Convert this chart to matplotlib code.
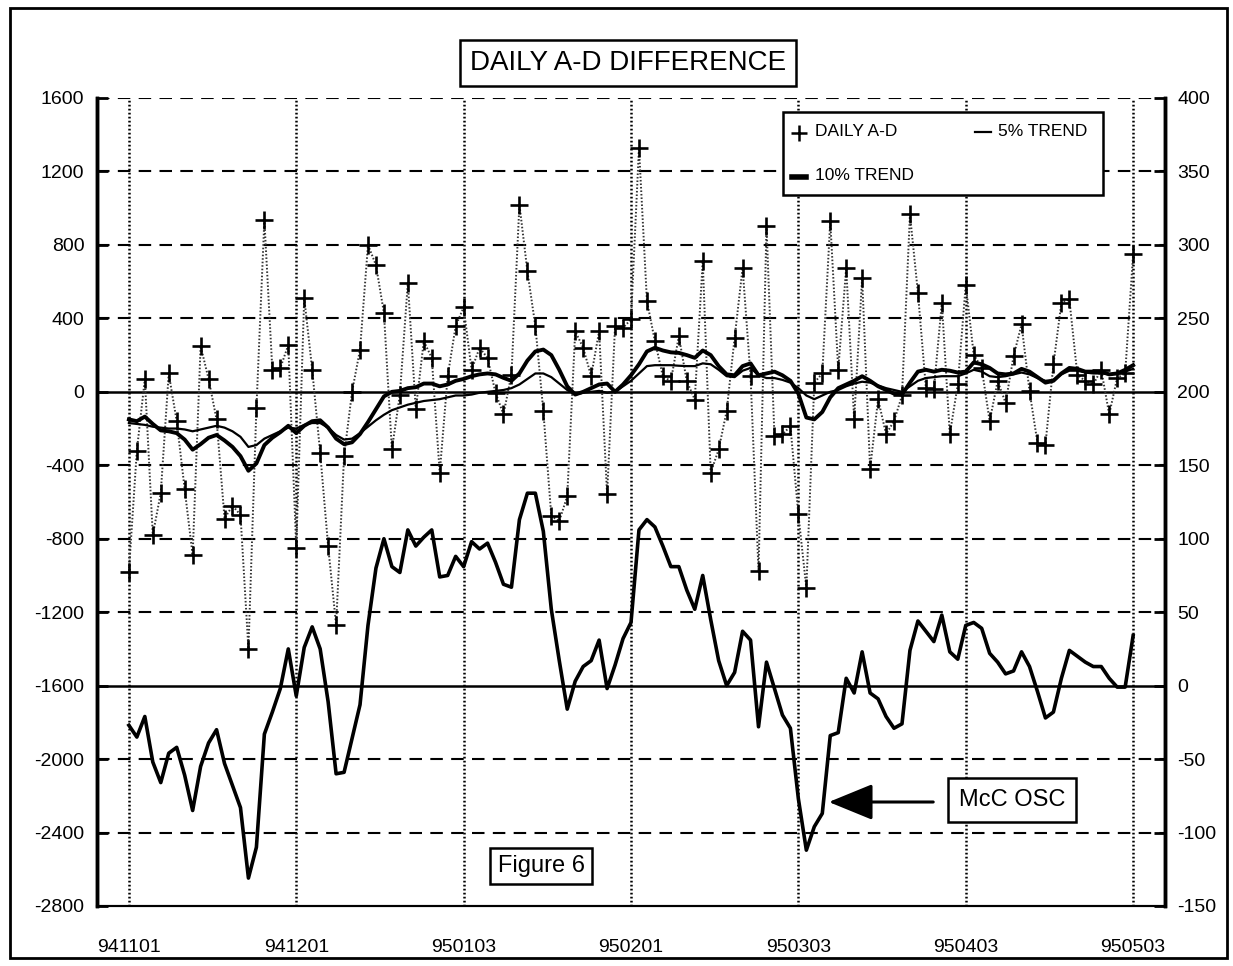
import numpy as np
import matplotlib.pyplot as plt
from matplotlib.patches import Rectangle
from matplotlib.lines import Line2D

plt.rcParams['font.family'] = ['Liberation Sans', 'DejaVu Sans']
plt.rcParams['axes.unicode_minus'] = False

# ---------------------------------------------------------------
# data (one value per trading day, 941101..950503)
# ---------------------------------------------------------------
TICK_POS = [0, 21, 42, 63, 84, 105, 126]
TICK_LABELS = ['941101', '941201', '950103', '950201', '950303', '950403', '950503']

DAILY_AD = [
    -980, -320, 70, -780, -550, 100, -160, -530, -890, 250, 70, -150, -690, -620, -670, -1400, -90, 935, 120, 130, 255, -850,
    512, 121, -332, -840, -1270, -350, 0, 230, 800, 690, 430, -314, -15, 594, -96, 276, 185, -441, 85, 358,
    460, 120, 240, 185, -5, -123, 94, 1020, 657, 358, -105, -677, -704, -568, 330, 240, 85, 330, -559, 358, 349,
    394, 1329, 494, 276, 85, 58, 303, 58, -42, 712, -441, -314, -105, 294, 675, 85, -977, 902, -241, -232, -187,
    -668, -1068, 50, 100, 930, 120, 675, -150, 620, -420, -40, -230, -160, -20, 966, 539, 22, 13, 485, -232, 40,
    584, 203, 130, -160, 58, -60, 194, 367, 4, -278, -287, 149, 485, 503, 94, 58, 40, 121, -123, 76, 100, 748,
]

TREND_10 = [
    -150, -160, -135, -175, -210, -215, -225, -260, -315, -285,
    -250, -235, -265, -300, -350, -430, -390, -290, -250, -220,
    -185, -225, -185, -160, -155, -195, -255, -285, -275, -230,
    -165, -95, -25, 0, 5, 20, 25, 45, 45, 30,
    40, 60, 70, 85, 95, 100, 95, 76, 60, 100,
    170, 220, 230, 200, 120, 30, -15, 0, 20, 40,
    45, 0, 40, 90, 150, 220, 240, 225, 215, 212,
    200, 185, 225, 200, 140, 95, 90, 140, 155, 90,
    100, 110, 90, 60, -10, -140, -150, -110, -30, 20,
    40, 60, 85, 60, 30, 10, -10, -15, 50, 110,
    120, 110, 120, 115, 105, 110, 160, 150, 130, 100,
    95, 100, 125, 110, 80, 50, 60, 100, 130, 125,
    110, 110, 110, 95, 100, 120, 145,
]

TREND_5 = [
    -170, -175, -180, -190, -195, -200, -200, -205, -215, -205,
    -195, -185, -195, -215, -245, -300, -290, -255, -235, -215,
    -195, -200, -180, -170, -170, -195, -235, -260, -255, -225,
    -190, -155, -125, -100, -85, -70, -60, -50, -45, -40,
    -30, -20, -20, -15, -5, 0, 5, 10, 20, 40,
    70, 100, 100, 80, 45, 10, -15, -5, 0, 5,
    -5, 0, 30, 60, 100, 140, 145, 145, 145, 142,
    140, 140, 155, 150, 120, 85, 80, 115, 130, 90,
    75, 75, 65, 50, 20, -20, -40, -20, 0, 10,
    30, 45, 55, 50, 35, 20, 10, 0, 30, 60,
    75, 80, 85, 85, 85, 100, 120, 110, 85, 80,
    85, 95, 105, 95, 75, 60, 65, 95, 115, 115,
    105, 100, 100, 95, 100, 110, 125,
]

MCC_OSC = [
    -27, -35, -21, -52, -66, -46, -42, -61, -85, -55,
    -39, -30, -53, -68, -83, -131, -110, -33, -18, -2,
    25, -7, 26, 40, 25, -11, -60, -59, -36, -13,
    41, 80, 100, 81, 77, 106, 95, 101, 106, 74,
    75, 88, 81, 98, 93, 97, 84, 69, 67, 113,
    131, 131, 105, 52, 17, -16, 3, 13, 17, 31,
    -2, 14, 32, 43, 106, 113, 108, 95, 81, 81,
    65, 52, 75, 45, 17, 0, 9, 37, 31, -28,
    16, -2, -20, -29, -77, -112, -96, -87, -34, -32,
    5, -5, 23, -5, -9, -21, -29, -26, 24, 44,
    37, 30, 48, 23, 18, 41, 43, 39, 22, 16,
    8, 10, 23, 13, -4, -22, -18, 5, 24, 20,
    16, 13, 13, 5, -1, -1, 34,
]

W, H = 1233, 966


def fx(px):
    return px / W


def fy(py):
    return 1 - py / H


fig = plt.figure(figsize=(W / 100, H / 100), dpi=100)
fig.patch.set_facecolor('white')

ax = fig.add_axes([fx(97), fy(906), fx(1165) - fx(97), fy(98) - fy(906)])
ax2 = ax.twinx()

days = np.arange(len(DAILY_AD))

# grid: dashed horizontals, dotted verticals at the month labels
for yv in range(-2800, 1601, 400):
    if yv in (0, -1600, -2800):
        continue
    ax.axhline(yv, color='black', lw=1.5, ls=(0, (6, 4)), zorder=1)
for p in TICK_POS:
    ax.axvline(p, color='black', lw=1.8, ls=(0, (0.7, 0.9)), zorder=1)
ax.axhline(0, color='black', lw=1.8, zorder=2)
ax.axhline(-1600, color='black', lw=1.8, zorder=2)

ax.plot(days, DAILY_AD, color='#333333', lw=1.4, ls=(0, (0.8, 1.0)), zorder=3)
ax.plot(days, DAILY_AD, ls='none', marker='+', ms=13, mew=1.9, color='black', zorder=4)
ax.plot(days, TREND_5, color='black', lw=1.6, zorder=5)
ax.plot(days, TREND_10, color='black', lw=2.8, zorder=5)
ax2.plot(days, MCC_OSC, color='black', lw=2.6, zorder=5)

ax.set_xlim(-4, 130)
ax.set_ylim(-2800, 1600)
ax2.set_ylim(-150, 400)
ax.set_yticks(range(-2800, 1601, 400))
ax2.set_yticks(range(-150, 401, 50))
ax.set_xticks(TICK_POS)
ax.set_xticklabels(TICK_LABELS)

ax.tick_params(axis='x', length=0, pad=24, labelsize=14)
ax.tick_params(axis='y', direction='in', length=8, width=2, labelsize=14, pad=9)
ax2.tick_params(axis='y', direction='in', length=8, width=2, labelsize=14, pad=9)

for a in (ax, ax2):
    a.spines['top'].set_visible(False)
    a.spines['left'].set_linewidth(2.5)
    a.spines['right'].set_linewidth(2.5)
    a.spines['bottom'].set_linewidth(1.5)

# outer frame of the whole chart
fig.add_artist(Rectangle((fx(10), fy(958)), fx(1227) - fx(10), fy(8) - fy(958),
                         transform=fig.transFigure, fill=False, ec='black', lw=2))

# title box
fig.text(fx(628), fy(63), 'DAILY A-D DIFFERENCE', ha='center', va='center', fontsize=20,
         bbox=dict(boxstyle='square,pad=0.35', fc='white', ec='black', lw=1.8))

# legend box drawn by hand
fig.add_artist(Rectangle((fx(783), fy(195)), fx(1103) - fx(783), fy(112) - fy(195),
                         transform=fig.transFigure, fc='white', ec='black', lw=1.8, zorder=10))
fig.add_artist(Line2D([fx(799)], [fy(133)], marker='+', ms=12, mew=1.8, color='black',
                      transform=fig.transFigure, zorder=11))
fig.text(fx(815), fy(132), 'DAILY A-D', ha='left', va='center', fontsize=12.5, zorder=11)
fig.add_artist(Line2D([fx(975), fx(991)], [fy(132), fy(132)], lw=1.6, color='black',
                      transform=fig.transFigure, zorder=11))
fig.text(fx(998), fy(132), '5% TREND', ha='left', va='center', fontsize=12.5, zorder=11)
fig.add_artist(Line2D([fx(792), fx(806)], [fy(177), fy(177)], lw=4, color='black',
                      transform=fig.transFigure, zorder=11))
fig.text(fx(815), fy(176), '10% TREND', ha='left', va='center', fontsize=12.5, zorder=11)

# annotation boxes
fig.text(fx(541), fy(866), 'Figure 6', ha='center', va='center', fontsize=17,
         bbox=dict(boxstyle='square,pad=0.3', fc='white', ec='black', lw=1.8))
fig.text(fx(1012), fy(800), 'McC OSC', ha='center', va='center', fontsize=17,
         bbox=dict(boxstyle='square,pad=0.45', fc='white', ec='black', lw=1.8))
ax.annotate('', xy=(826, H - 802), xytext=(936, H - 802),
            xycoords='figure pixels', textcoords='figure pixels',
            arrowprops=dict(arrowstyle='-|>,head_length=1.1,head_width=0.45',
                            lw=2.2, color='black', mutation_scale=25))

fig.savefig('out.png', dpi=100)
